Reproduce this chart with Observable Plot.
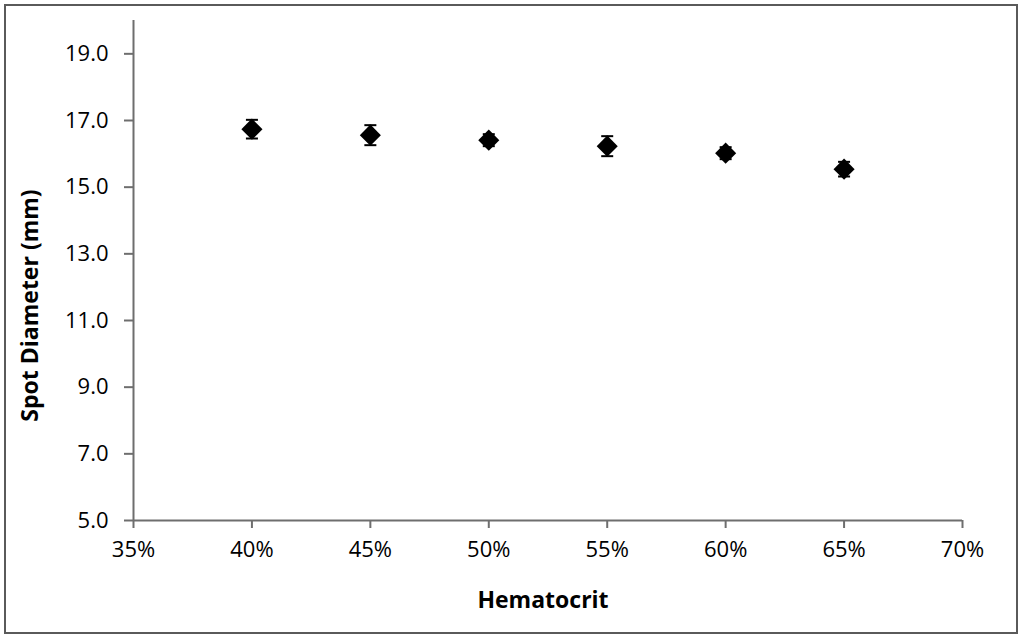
<!DOCTYPE html>
<html>
<head>
<meta charset="utf-8">
<script src="https://cdn.jsdelivr.net/npm/d3@7"></script>
<script src="https://cdn.jsdelivr.net/npm/@observablehq/plot@0.6"></script>
<style>
  html, body { margin: 0; padding: 0; background: #fff; }
  #wrap { position: relative; width: 1024px; height: 640px; }
  #border { position: absolute; left: 4px; top: 4px; width: 1014px; height: 630px; box-sizing: border-box; border: 2px solid #5a5a5a; pointer-events: none; }
  #chart svg { position: absolute; left: 0; top: 0; }
</style>
</head>
<body>
<div id="wrap"><div id="chart"></div><div id="border"></div></div>
<script>
const hematocrit = [40, 45, 50, 55, 60, 65];
const diameter = [16.74, 16.56, 16.41, 16.23, 16.02, 15.54];
const errors = [0.28, 0.30, 0.18, 0.30, 0.18, 0.22];
const xTicks = [35, 40, 45, 50, 55, 60, 65, 70];
const yTicks = [5, 7, 9, 11, 13, 15, 17, 19];
const xDomain = [35, 70];
const yDomain = [5, 20];

const data = hematocrit.map((h, i) => ({h, d: diameter[i], e: errors[i]}));

const cap = { draw(ctx, size) { const w = 6; ctx.moveTo(-w, 0); ctx.lineTo(w, 0); } };
const axisColor = "#6e6e6e";
const font = "'Open Sans', sans-serif";

const chart = Plot.plot({
  width: 1024,
  height: 640,
  marginLeft: 133,
  marginRight: 62,
  marginTop: 20,
  marginBottom: 120,
  style: { fontFamily: font, fontSize: "22px", color: "#000", background: "transparent" },
  x: { domain: xDomain, axis: null },
  y: { domain: yDomain, axis: null },
  marks: [
    Plot.axisX({ ticks: xTicks, tickFormat: d => d + "%", tickSize: 8, tickPadding: 13, stroke: axisColor, strokeWidth: 2, fill: "#000", label: null, fontSize: 22 }),
    Plot.axisY({ ticks: yTicks, tickFormat: d3.format(".1f"), tickSize: 9, tickPadding: 16, stroke: axisColor, strokeWidth: 2, fill: "#000", label: null, fontSize: 22 }),
    Plot.ruleY([yDomain[0]], { stroke: axisColor, strokeWidth: 2 }),
    Plot.ruleX([xDomain[0]], { y1: yDomain[0], y2: yDomain[1], stroke: axisColor, strokeWidth: 2 }),
    Plot.ruleX(data, { x: "h", y1: d => d.d - d.e, y2: d => d.d + d.e, stroke: "#000", strokeWidth: 2 }),
    Plot.dot(data, { x: "h", y: d => d.d - d.e, symbol: cap, stroke: "#000", strokeWidth: 2, r: 5 }),
    Plot.dot(data, { x: "h", y: d => d.d + d.e, symbol: cap, stroke: "#000", strokeWidth: 2, r: 5 }),
    Plot.dot(data, { x: "h", y: "d", symbol: "diamond2", r: 9.5, fill: "#000", stroke: null }),
    Plot.text(["Hematocrit"], { frameAnchor: "bottom", dy: 87, dx: -5, fontWeight: "bold", fontSize: 23, fill: "#000" }),
    Plot.text(["Spot Diameter (mm)"], { frameAnchor: "left", textAnchor: "middle", dx: -103, dy: 35, rotate: -90, fontWeight: "bold", fontSize: 23, fill: "#000" })
  ]
});
document.getElementById("chart").appendChild(chart);
</script>
</body>
</html>
